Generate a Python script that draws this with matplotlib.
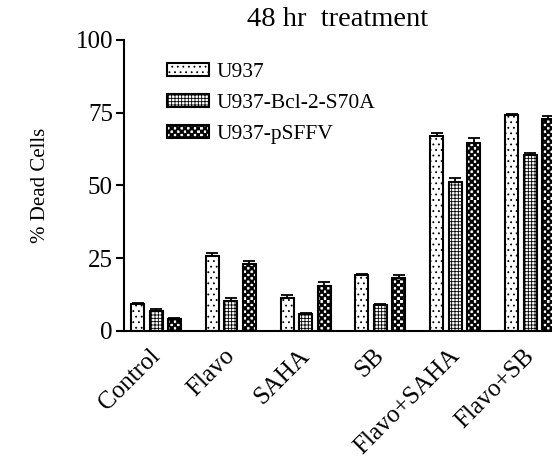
import numpy as np
import matplotlib
matplotlib.use('Agg')
import matplotlib.pyplot as plt
import matplotlib.hatch as mhatch
import matplotlib.transforms as mtransforms
from matplotlib.path import Path

# checkerboard fill for the third series, hooked onto the 'O' hatch
class CheckerHatch(mhatch.HatchPatternBase):
    def __init__(self, hatch, density):
        self.num_cells = int(hatch.count('O') * density)
        n = self.num_cells
        self.num_vertices = 5 * ((n * n + 1) // 2)

    def set_vertices_and_codes(self, vertices, codes):
        n = self.num_cells
        size = 1.0 / n
        k = 0
        for i in range(n):
            for j in range(n):
                if (i + j) % 2 == 0:
                    x, y = i * size, j * size
                    vertices[k:k + 5] = [(x, y), (x + size, y), (x + size, y + size),
                                         (x, y + size), (x, y)]
                    codes[k:k + 5] = [Path.MOVETO, Path.LINETO, Path.LINETO,
                                      Path.LINETO, Path.CLOSEPOLY]
                    k += 5

mhatch._hatch_types[mhatch._hatch_types.index(mhatch.LargeCircles)] = CheckerHatch

plt.rcParams['font.family'] = 'Liberation Serif'
plt.rcParams['hatch.linewidth'] = 0.6

# data
treatments = ['Control', 'Flavo', 'SAHA', 'SB', 'Flavo+SAHA', 'Flavo+SB']
cell_lines = ['U937', 'U937-Bcl-2-S70A', 'U937-pSFFV']
u937 = [9.2, 25.6, 11.3, 19.0, 67.0, 74.2]
u937_err = [0.4, 1.1, 0.9, 0.4, 1.1, 0.5]
bcl2 = [6.7, 10.1, 5.8, 8.9, 51.3, 60.5]
bcl2_err = [0.8, 1.1, 0.4, 0.3, 1.4, 0.8]
psffv = [4.0, 23.1, 15.3, 18.0, 64.4, 72.9]
psffv_err = [0.2, 0.9, 1.6, 1.1, 1.8, 1.0]

series = [u937, bcl2, psffv]
errors = [u937_err, bcl2_err, psffv_err]
hatches = ['...', '+++++', 'OOOOO']

fig = plt.figure(figsize=(5.52, 4.67), dpi=100)
ax = fig.add_axes([124 / 552, 136.3 / 467, 428 / 552, 290.7 / 467])

x = np.arange(len(treatments))
offset = 0.247
width = 0.174
for k in range(3):
    pos = x + (k - 1) * offset
    ax.bar(pos, series[k], width, color='white', edgecolor='black',
           linewidth=1.5, hatch=hatches[k], label=cell_lines[k], zorder=2)
    ax.errorbar(pos, series[k], yerr=[np.zeros(len(x)), errors[k]], fmt='none',
                ecolor='black', elinewidth=1.3, capsize=4, capthick=1.3, zorder=3)

ax.set_xlim(-0.428, 5.294)
ax.set_ylim(0, 100)
ax.set_yticks([0, 25, 50, 75, 100])
ax.set_xticks(x)
ax.set_xticklabels(treatments, rotation=45, ha='right', rotation_mode='anchor',
                   fontsize=18)
ax.tick_params(axis='x', length=0, pad=10)
ax.tick_params(axis='y', length=6, width=1.5, labelsize=18, pad=2)
# nudge the slanted labels a little to the left
shift = mtransforms.ScaledTranslation(-7 / 100, 0, fig.dpi_scale_trans)
for lab in ax.get_xticklabels():
    lab.set_transform(lab.get_transform() + shift)
for side in ['top', 'right']:
    ax.spines[side].set_visible(False)
for side in ['left', 'bottom']:
    ax.spines[side].set_linewidth(1.5)

ax.set_ylabel('% Dead Cells', fontsize=15)
ax.yaxis.set_label_coords(-0.174, 0.5)
ax.set_title('48 hr  treatment', fontsize=20.5, pad=10)

ax.legend(loc='upper left', bbox_to_anchor=(0.1, 0.92), frameon=False,
          fontsize=15.5, handlelength=1.95, handleheight=0.55,
          handletextpad=0.35, labelspacing=0.55, borderpad=0, borderaxespad=0)

fig.savefig('out.png', dpi=100)
